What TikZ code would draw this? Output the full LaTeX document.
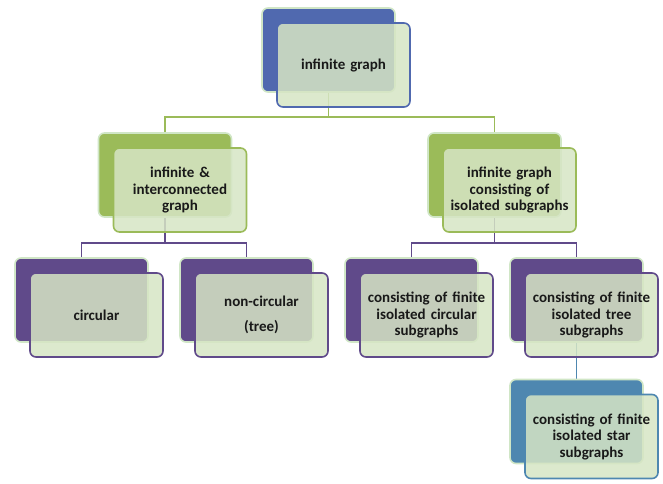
\documentclass[tikz,border=0pt]{standalone}
\usepackage{fontspec}
\setmainfont{Carlito}
\usetikzlibrary{positioning}
\pgfdeclarelayer{background}
\pgfdeclarelayer{foreground}
\pgfsetlayers{background,main,foreground}

\definecolor{topblue}{RGB}{80,105,175}
\definecolor{midgreen}{RGB}{155,187,89}
\definecolor{lowpurple}{RGB}{96,74,138}
\definecolor{starblue}{RGB}{78,135,176}
\definecolor{palegreen}{RGB}{214,229,196}
\definecolor{rimgreen}{RGB}{208,230,198}
\definecolor{inktext}{RGB}{25,25,25}

\begin{document}
\begin{tikzpicture}[x=1pt,y=-1pt,
							backbox/.style={rectangle, rounded corners=6pt, minimum width=133pt, minimum height=84pt, inner sep=0pt, draw=rimgreen, line width=1.6pt},
							frontbox/.style={rectangle, rounded corners=6pt, minimum width=133pt, minimum height=84pt, inner sep=0pt, line width=1.6pt, fill=palegreen, fill opacity=0.85, text opacity=1, text=inktext, text width=125pt, align=center, font=\bfseries\fontsize{15}{16.5}\selectfont},
							link/.style={line width=1.6pt},
							]
							\useasboundingbox (0,0) rectangle (663,483);
							%Back boxes
							\node[backbox, fill=topblue]      (b0) 	at 	(328.5,50)      {};
							\node[backbox, fill=midgreen]     (b1) 	at 	(165,175)       {};
							\node[backbox, fill=midgreen]     (b2) 	at 	(494.5,175)     {};
							\node[backbox, fill=lowpurple]    (b3) 	at 	(81.5,300)      {};
							\node[backbox, fill=lowpurple]    (b4) 	at 	(246.5,300)     {};
							\node[backbox, fill=lowpurple]    (b5) 	at 	(411.5,300)     {};
							\node[backbox, fill=lowpurple]    (b6) 	at 	(576.5,300)     {};
							\node[backbox, fill=starblue]     (b7) 	at 	(576.5,421.5)   {};
							%Front boxes
							\node[frontbox, draw=topblue]     (n0) 	at 	(343.5,65)      {infinite graph};
							\node[frontbox, draw=midgreen]    (n1) 	at 	(180,190)       {infinite \&\\interconnected\\graph};
							\node[frontbox, draw=midgreen]    (n2) 	at 	(509.5,190)     {infinite graph\\consisting of\\isolated subgraphs};
							\node[frontbox, draw=lowpurple]   (n3) 	at 	(96.5,315)      {circular};
							\node[frontbox, draw=lowpurple]   (n4) 	at 	(261.5,315)     {non-circular\\[8pt](tree)};
							\node[frontbox, draw=lowpurple]   (n5) 	at 	(426.5,315)     {consisting of finite\\isolated circular\\subgraphs};
							\node[frontbox, draw=lowpurple]   (n6) 	at 	(591.5,315)     {consisting of finite\\isolated tree\\subgraphs};
							\node[frontbox, draw=starblue]    (n7) 	at 	(591.5,436.5)   {consisting of finite\\isolated star\\subgraphs};
							\coordinate (j0) at (328.5,117);
							\coordinate (j1) at (165,243);
							\coordinate (j2) at (494.5,243);

							\begin{pgfonlayer}{background}
							\draw[link, midgreen] (b0) -- (j0) -| (b1);
							\draw[link, midgreen] (j0) -| (b2);
							\draw[link, lowpurple] (b1) -- (j1) -| (b3);
							\draw[link, lowpurple] (j1) -| (b4);
							\draw[link, lowpurple] (b2) -- (j2) -| (b5);
							\draw[link, lowpurple] (j2) -| (b6);
							\draw[link, starblue] (b6) -- (b7);
							\end{pgfonlayer}
						\end{tikzpicture}
\end{document}
